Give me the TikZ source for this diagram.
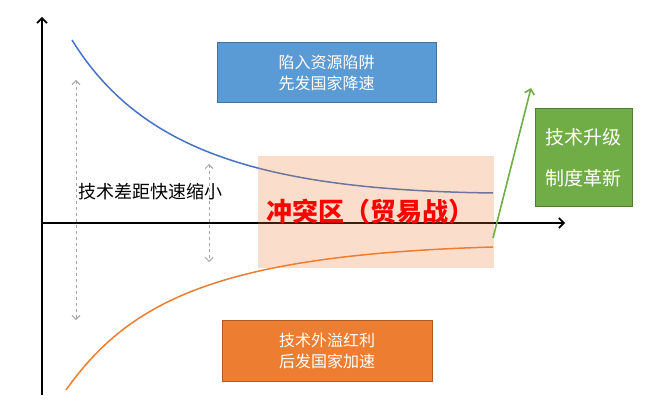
\documentclass[tikz,border=0pt]{standalone}
\usepackage{fontspec}
\setmainfont{Noto Sans CJK SC}
\usetikzlibrary{arrows.meta}
\definecolor{curveblue}{HTML}{4472C4}
\definecolor{curveorange}{HTML}{ED7D31}
\definecolor{boxblue}{HTML}{5B9BD5}
\definecolor{edgeblue}{HTML}{41719C}
\definecolor{boxorange}{HTML}{ED7D31}
\definecolor{edgeorange}{HTML}{AE5A21}
\definecolor{boxgreen}{HTML}{70AD47}
\definecolor{edgegreen}{HTML}{507E32}
\definecolor{gapgray}{HTML}{A6A6A6}
\definecolor{warred}{HTML}{FF0000}

\begin{document}
\begin{tikzpicture}[x=1pt, y=-1pt, >={Straight Barb[length=5pt,width=10pt]},
  infobox/.style={draw, line width=1pt, text=white, align=center, inner sep=0pt},
  gaparrow/.style={<->, gapgray, dashed, line width=1pt, >={Straight Barb[length=4pt,width=8pt]}}]
  \useasboundingbox (0,0) rectangle (656,417);

  % axes
  \coordinate (origin) at (42,223);
  \coordinate (ytop) at (42,17);
  \coordinate (ybot) at (42,395);
  \coordinate (xend) at (565,223);
  \draw[->, line width=1.6pt] (ybot) -- (ytop);
  \draw[->, line width=1.6pt] (origin) -- (xend);

  % leader and follower curves
  \draw[curveblue, line width=1.5pt] (72,40) .. controls (140,150) and (260,190) .. (493,193);
  \draw[curveorange, line width=1.5pt] (66,390) .. controls (130,300) and (220,255) .. (493,247);

  % conflict zone
  \fill[curveorange, fill opacity=0.25] (258,156) rectangle (494,268);
  \node[text=warred, font=\bfseries\fontsize{26}{30}\selectfont] (war) at (370,212) {冲突区（贸易战）};

  % gap closing
  \coordinate (gapAtop) at (76,80);
  \coordinate (gapAbot) at (76,320);
  \coordinate (gapBtop) at (209,164);
  \coordinate (gapBbot) at (209,262);
  \draw[gaparrow] (gapAtop) -- (gapAbot);
  \draw[gaparrow] (gapBtop) -- (gapBbot);
  \node[font=\fontsize{18}{20}\selectfont] (gap) at (150,192) {技术差距快速缩小};

  % boxes
  \node[infobox, fill=boxblue, draw=edgeblue, minimum width=219pt, minimum height=60pt,
    font=\fontsize{16}{21}\selectfont] (trap) at (326.5,73) {陷入资源陷阱\\先发国家降速};
  \node[infobox, fill=boxorange, draw=edgeorange, minimum width=210pt, minimum height=61pt,
    font=\fontsize{16}{21}\selectfont] (spill) at (327,350.5) {技术外溢红利\\后发国家加速};
  \node[infobox, fill=boxgreen, draw=edgegreen, minimum width=97pt, minimum height=97pt,
    font=\fontsize{19}{41}\selectfont] (upgrade) at (583.5,157.5) {技术升级\\制度革新};

  % breakout
  \coordinate (breakfrom) at (493,238);
  \coordinate (breakto) at (531,88);
  \draw[->, boxgreen, line width=1.6pt] (breakfrom) -- (breakto);
\end{tikzpicture}
\end{document}
